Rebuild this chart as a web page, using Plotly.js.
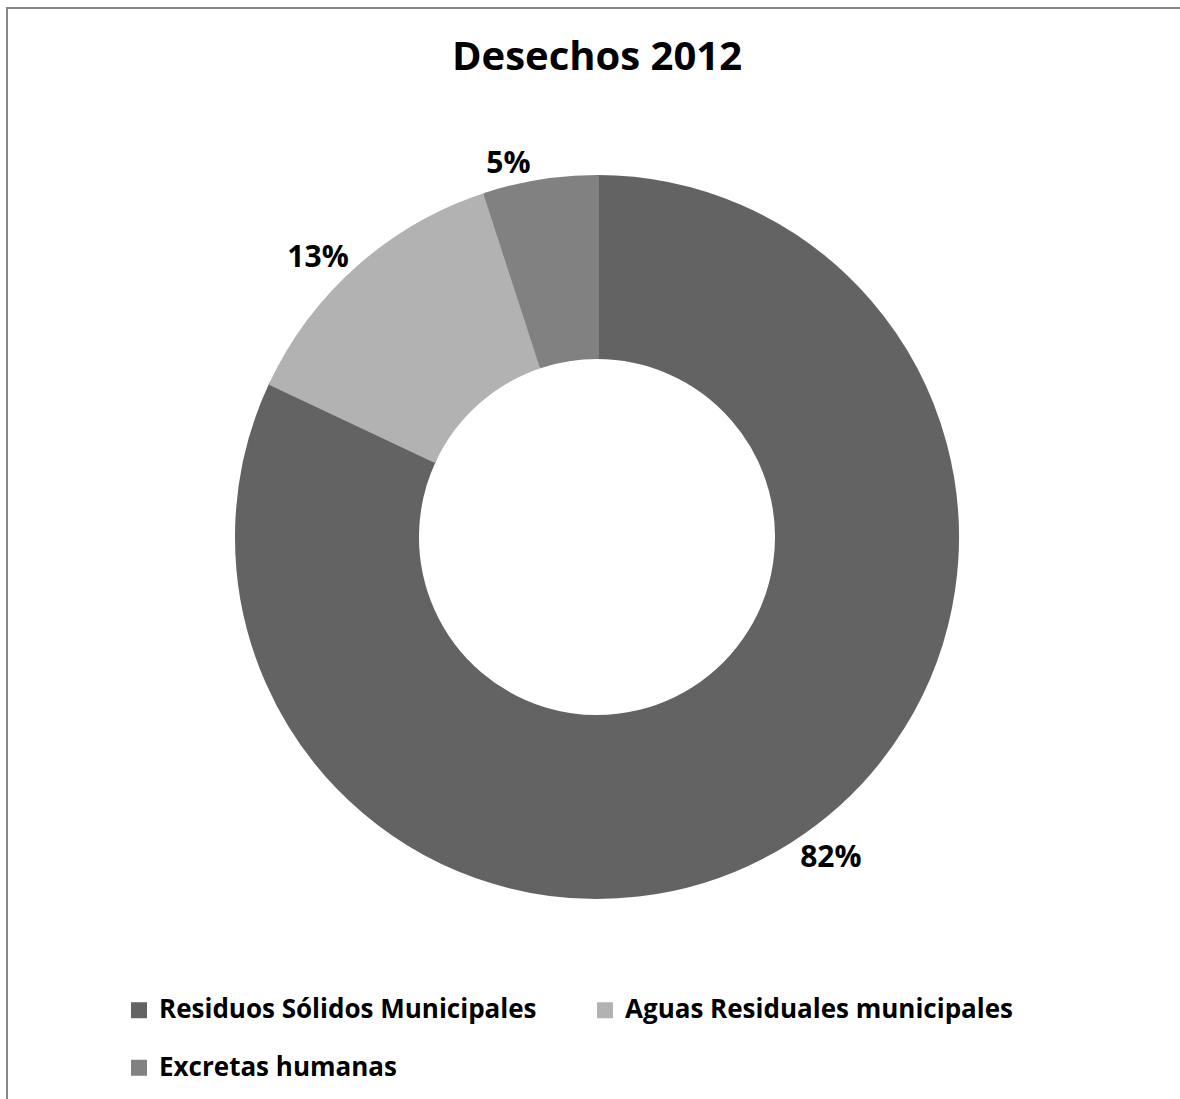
<!DOCTYPE html>
<html>
<head>
<meta charset="utf-8">
<script src="https://cdn.plot.ly/plotly-3.0.1.min.js"></script>
<style>
  html, body { margin: 0; padding: 0; background: #fff; }
  #wrap { position: relative; width: 1180px; height: 1099px; overflow: hidden; }
  #chart { position: absolute; left: 0; top: 0; width: 1180px; height: 1099px; }
  #frame { position: absolute; left: 6px; top: 7px; width: 1300px; height: 1300px;
           border-left: 2px solid #878787; border-top: 2px solid #878787; pointer-events: none; }
</style>
</head>
<body>
<div id="wrap">
  <div id="chart"></div>
  <div id="frame"></div>
</div>
<script>
const chartTitle = "Desechos 2012";
const categories = ["Residuos Sólidos Municipales", "Aguas Residuales municipales", "Excretas humanas"];
const values = [82, 13, 5];
const colors = ["#636363", "#b2b2b2", "#818181"];

const W = 1180, H = 1099;
const cx = 597, cy = 537, R = 360;
const FONT = "Open Sans";

const trace = {
  type: "pie",
  labels: categories.map(c => "<span style=\"font-size:26px\">" + c + "</span><br> "),
  values: values,
  sort: false,
  direction: "clockwise",
  rotation: 0,
  hole: 0.5,
  marker: { colors: colors, line: { color: colors, width: 4 } },
  textinfo: "percent",
  texttemplate: "%{percent:.0%}",
  textposition: "outside",
  outsidetextfont: { family: FONT, size: 30, color: "#000000", weight: "bold" },
  domain: { x: [(cx - R) / W, (cx + R) / W], y: [(H - cy - R) / H, (H - cy + R) / H] },
  hoverinfo: "none"
};

const layout = {
  width: W, height: H,
  margin: { l: 0, r: 0, t: 0, b: 0, autoexpand: false },
  paper_bgcolor: "#ffffff",
  font: { family: FONT, color: "#000000" },
  title: {
    text: "<b>" + chartTitle + "</b>",
    font: { family: FONT, size: 40, color: "#000000" },
    x: 597 / W, xanchor: "center",
    y: 1 - 56 / H, yanchor: "middle"
  },
  showlegend: true,
  legend: {
    orientation: "h",
    x: 119 / W, xanchor: "left",
    y: 1 - 990 / H, yanchor: "top",
    entrywidth: 421, entrywidthmode: "pixels",
    valign: "top",
    font: { family: FONT, size: 21, color: "#000000", weight: "bold" },
    traceorder: "normal"
  }
};

Plotly.newPlot("chart", [trace], layout, { staticPlot: true });
</script>
</body>
</html>
